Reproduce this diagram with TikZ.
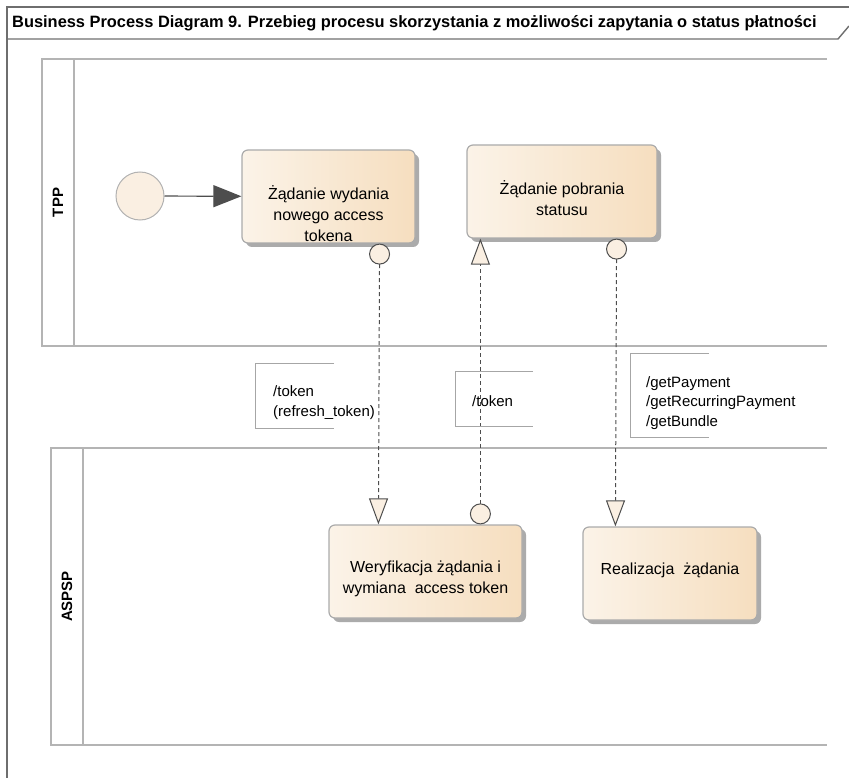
\documentclass[tikz,border=0pt]{standalone}
\usepackage{fontspec}
\setmainfont{Liberation Sans}
\usetikzlibrary{arrows.meta, shadows, positioning}

\definecolor{lanegray}{HTML}{B4B4B4}
\definecolor{framegray}{HTML}{6E6E6E}
\definecolor{taskleft}{HTML}{FBF3E8}
\definecolor{taskright}{HTML}{F6DEBF}
\definecolor{taskline}{HTML}{ABABAB}
\definecolor{shadowgray}{HTML}{ABABAB}
\definecolor{evfill}{HTML}{FAEFE2}
\definecolor{flowgray}{HTML}{4D4D4D}

\tikzset{
  frame/.style={draw=framegray, line width=1.4pt},
  lane/.style={draw=lanegray, line width=2.5pt},
  lanelabel/.style={font=\fontsize{15}{17}\selectfont\bfseries, rotate=90, inner sep=0pt},
  task/.style={draw=taskline, line width=1.2pt, rounded corners=6pt,
    left color=taskleft, right color=taskright, minimum height=93pt, inner sep=0pt,
    drop shadow={shadow xshift=4pt, shadow yshift=-4pt, fill=shadowgray, opacity=1}},
  tasktext/.style={font=\fontsize{16}{21}\selectfont, align=center, anchor=north, inner sep=0pt, yshift=-36pt},
  startev/.style={circle, draw=gray!60, line width=1pt, fill=evfill, minimum size=48pt, inner sep=0pt},
  seqflow/.style={draw=flowgray, line width=1.2pt, arrows={-Triangle[length=28pt, width=22pt]}},
  msgflow/.style={draw=flowgray, line width=1pt, dash pattern=on 4pt off 3pt,
    arrows={Circle[length=21pt, fill=evfill]-Triangle[length=26pt, width=19pt, fill=evfill]}},
  annot/.style={font=\fontsize{15}{19.5}\selectfont, align=left, inner sep=0pt, anchor=west},
  bracket/.style={draw=gray!70, line width=1pt}
}

\begin{document}
\begin{tikzpicture}[x=1pt, y=-1pt]
  \useasboundingbox (0,0) rectangle (849,778);

  % Diagram frame and title
  \draw[frame] (7,778) -- (7,7) -- (849,7);
  \draw[frame] (7,39) -- (838,39) -- (849,26);
  \node[anchor=west, inner sep=0pt, font=\fontsize{16.4}{18}\selectfont\bfseries] (title) at (12,23)
    {Business Process Diagram 9. Przebieg procesu skorzystania z możliwości zapytania o status płatności};

  % Lanes
  \draw[lane] (827,59) -- (42,59) -- (42,346) -- (827,346);
  \draw[lane] (74,59) -- (74,346);
  \node[lanelabel] (tpp) at (58,202.5) {TPP};
  \draw[lane] (827,448) -- (51,448) -- (51,745) -- (827,745);
  \draw[lane] (83,448) -- (83,745);
  \node[lanelabel] (aspsp) at (67,596.5) {ASPSP};

  % TPP tasks
  \node[startev] (start) at (140,196) {};
  \node[task, minimum width=173pt, label={[tasktext]north:Żądanie wydania\\nowego access\\tokena}] (newtok) at (328.5,196.5) {};
  \node[task, minimum width=190pt, label={[tasktext]north:Żądanie pobrania\\statusu}] (status) at (562,191.5) {};

  % ASPSP tasks
  \node[task, minimum width=193pt, label={[tasktext]north:Weryfikacja żądania i\\wymiana\ \ access token}] (verif) at (425.5,571.5) {};
  \node[task, minimum width=174pt, label={[tasktext]north:Realizacja\ \ żądania}] (realiz) at (670,573.5) {};

  % Flows
  \draw[seqflow] (start) -- (newtok);
  \draw[msgflow] ([xshift=-36pt]newtok.south east) -- ([xshift=50pt]verif.north west);
  \draw[msgflow] ([xshift=152pt]verif.north west) -- ([xshift=14pt]status.south west);
  \draw[msgflow] ([xshift=-41pt]status.south east) -- ([xshift=33pt]realiz.north west);

  % Annotations
  \draw[bracket] (334,363) -| (255,428) -- (334,428);
  \node[annot] (tokenref) at (273,402.5) {/token\\(refresh\_token)};
  \draw[bracket] (533,371) -| (455,426) -- (533,426);
  \node[annot] (tokenback) at (472,401) {/token};
  \draw[bracket] (709,353) -| (630,437) -- (709,437);
  \node[annot] (getcalls) at (646,403) {/getPayment\\/getRecurringPayment\\/getBundle};
\end{tikzpicture}
\end{document}
